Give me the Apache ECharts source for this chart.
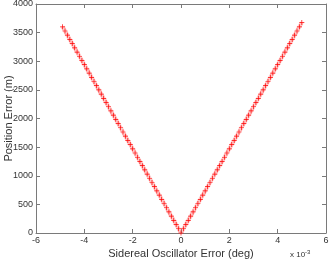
<!DOCTYPE html>
<html>
<head>
<meta charset="utf-8">
<script src="https://cdn.jsdelivr.net/npm/echarts@6/dist/echarts.min.js"></script>
<style>
  html, body { margin: 0; padding: 0; background: #fff; }
  #chart { width: 330px; height: 261px; }
</style>
</head>
<body>
<div id="chart"></div>
<script>
// oscillator error magnitude, units of 1e-3 deg
var errMag = [0, 0.1, 0.2, 0.3, 0.4, 0.5, 0.6, 0.7, 0.8, 0.9,
  1.0, 1.1, 1.2, 1.3, 1.4, 1.5, 1.6, 1.7, 1.8, 1.9,
  2.0, 2.1, 2.2, 2.3, 2.4, 2.5, 2.6, 2.7, 2.8, 2.9,
  3.0, 3.1, 3.2, 3.3, 3.4, 3.5, 3.6, 3.7, 3.8, 3.9,
  4.0, 4.1, 4.2, 4.3, 4.4, 4.5, 4.6, 4.7, 4.8, 4.9, 5.0];
// position error (m) for each magnitude
var posErr = [0, 74, 147, 221, 294, 368, 441, 515, 588, 662,
  735, 809, 882, 956, 1029, 1103, 1176, 1250, 1323, 1397,
  1470, 1544, 1617, 1691, 1764, 1838, 1911, 1985, 2058, 2132,
  2205, 2279, 2352, 2426, 2499, 2573, 2646, 2720, 2793, 2867,
  2940, 3014, 3087, 3161, 3234, 3308, 3381, 3455, 3528, 3602, 3675];
var leftCount = 50; // negative side stops at -4.9
var xTicks = [-6, -4, -2, 0, 2, 4, 6];
var yTicks = [0, 500, 1000, 1500, 2000, 2500, 3000, 3500, 4000];

var pts = [];
for (var i = leftCount - 1; i > 0; i--) pts.push([-errMag[i], posErr[i]]);
for (var j = 0; j < errMag.length; j++) pts.push([errMag[j], posErr[j]]);

var font = 'Liberation Sans, Arial, sans-serif';
var axisCol = '#7a7a7a';
var chart = echarts.init(document.getElementById('chart'));
var baseX = {
  type: 'value', min: -6, max: 6, interval: 2,
  axisLine: { onZero: false, lineStyle: { color: axisCol, width: 1 } },
  axisTick: { inside: true, length: 4, lineStyle: { color: axisCol } },
  splitLine: { show: false }
};
var baseY = {
  type: 'value', min: 0, max: 4000, interval: 500,
  axisLine: { onZero: false, lineStyle: { color: axisCol, width: 1 } },
  axisTick: { inside: true, length: 4, lineStyle: { color: axisCol } },
  splitLine: { show: false }
};
chart.setOption({
  animation: false,
  grid: { left: 36, right: 4, top: 4, bottom: 28, containLabel: false, outerBoundsMode: 'none' },
  xAxis: [
    Object.assign({}, baseX, {
      position: 'bottom',
      name: 'Sidereal Oscillator Error (deg)',
      nameLocation: 'middle', nameGap: 15, nameMoveOverlap: false,
      nameTextStyle: { color: '#333', fontSize: 11, fontFamily: font },
      axisLabel: { color: '#333', fontSize: 9, fontFamily: font, margin: 3,
        formatter: function (v) { return xTicks.indexOf(v) >= 0 ? String(v) : ''; } }
    }),
    Object.assign({}, baseX, { position: 'top', axisLabel: { show: false } })
  ],
  yAxis: [
    Object.assign({}, baseY, {
      position: 'left',
      name: 'Position Error (m)',
      nameLocation: 'middle', nameGap: 22, nameRotate: 90, nameMoveOverlap: false,
      nameTextStyle: { color: '#333', fontSize: 11, fontFamily: font },
      axisLabel: { color: '#333', fontSize: 9, fontFamily: font, margin: 3,
        formatter: function (v) { return yTicks.indexOf(v) >= 0 ? String(v) : ''; } }
    }),
    Object.assign({}, baseY, { position: 'right', axisLabel: { show: false } })
  ],
  graphic: [{
    type: 'text', left: 290, top: 249,
    style: {
      text: 'x 10{s|-3}', fill: '#333', fontSize: 8, fontFamily: font,
      rich: { s: { fontSize: 6, verticalAlign: 'top', padding: [0, 0, 5, 0], fill: '#333' } }
    }
  }],
  series: [{
    type: 'line',
    data: pts,
    symbol: 'path://M0,4.3H10V5.7H0ZM4.3,0H5.7V10H4.3Z',
    symbolSize: 5,
    itemStyle: { color: '#ff0000' },
    lineStyle: { color: 'rgba(255,90,90,0.35)', width: 4 },
    clip: false
  }]
});
</script>
</body>
</html>
